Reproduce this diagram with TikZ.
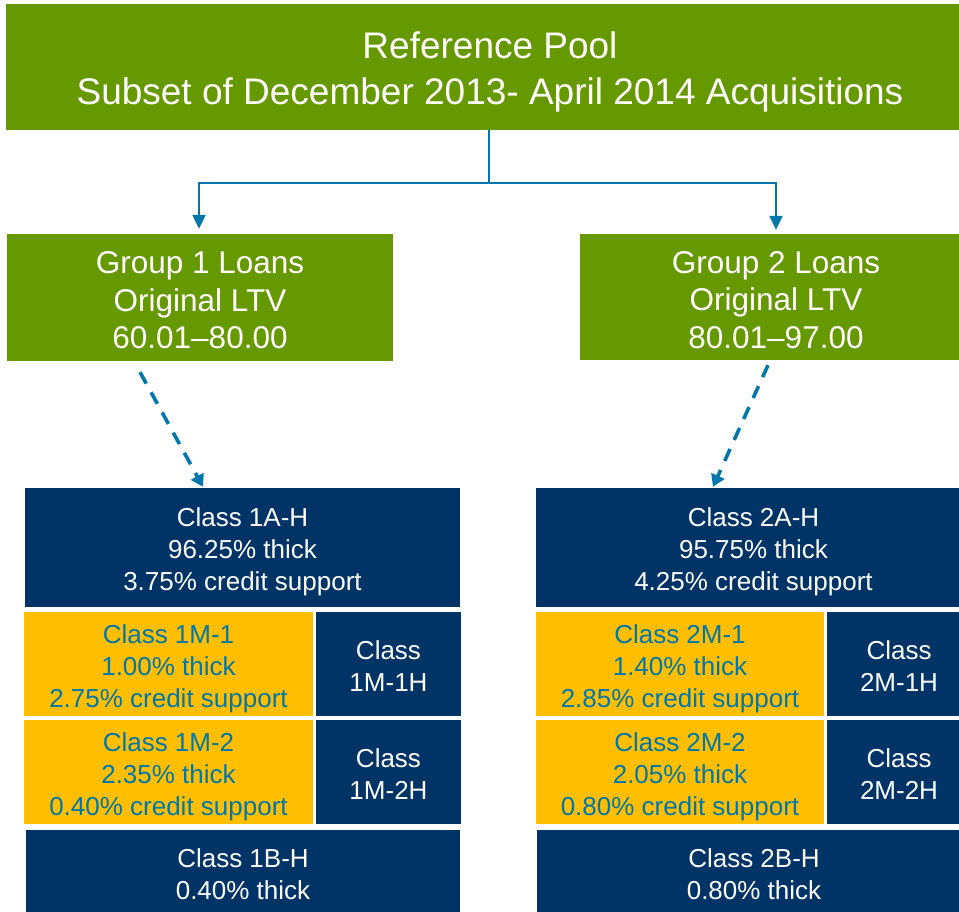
\documentclass[tikz,border=0pt]{standalone}
\usepackage{fontspec}
\setmainfont{Liberation Sans}
\usetikzlibrary{arrows.meta}
\definecolor{poolgreen}{HTML}{669900}
\definecolor{navy}{HTML}{003366}
\definecolor{gold}{HTML}{FFBF00}
\definecolor{linkblue}{HTML}{0077AA}
\begin{document}
\begin{tikzpicture}[x=1pt,y=-1pt,
  box/.style={rectangle, inner sep=0pt},
  greenbox/.style={box, fill=poolgreen},
  navybox/.style={box, fill=navy},
  goldbox/.style={box, fill=gold},
  txt/.style={inner sep=0pt, align=center, text=white},
  toptxt/.style={txt, font=\fontsize{37}{46}\selectfont},
  grptxt/.style={txt, font=\fontsize{31.5}{37.5}\selectfont},
  clstxt/.style={txt, font=\fontsize{26}{32}\selectfont},
  goldtxt/.style={clstxt, text=linkblue},
  conn/.style={draw=linkblue, line width=2.2pt},
  tip/.style={-{Triangle[width=13pt,length=14pt]}, linkblue},
  dashconn/.style={draw=linkblue, line width=3.6pt, dash pattern=on 13pt off 10pt, -{Triangle[width=14pt,length=12pt]}}
]
\useasboundingbox (0,0) rectangle (959,912);
\clip (0,0) rectangle (959,912);

% boxes (right-hand ones run past the picture's edge)
\node[greenbox, minimum width=968pt, minimum height=126pt] (top) at (490,67) {};
\node[greenbox, minimum width=386pt, minimum height=127pt] (g1) at (200,297.5) {};
\node[greenbox, minimum width=392pt, minimum height=126pt] (g2) at (776,297) {};

\node[navybox, minimum width=435pt, minimum height=119pt] (c1a) at (242.5,547.5) {};
\node[goldbox, minimum width=289pt, minimum height=104pt] (c1m1) at (168.5,664) {};
\node[navybox, minimum width=145pt, minimum height=104pt] (c1m1h) at (388.5,664) {};
\node[goldbox, minimum width=289pt, minimum height=104pt] (c1m2) at (168.5,772) {};
\node[navybox, minimum width=145pt, minimum height=104pt] (c1m2h) at (388.5,772) {};
\node[navybox, minimum width=434pt, minimum height=82pt] (c1b) at (243,871) {};

\node[navybox, minimum width=435pt, minimum height=119pt] (c2a) at (753.5,547.5) {};
\node[goldbox, minimum width=288pt, minimum height=104pt] (c2m1) at (680,664) {};
\node[navybox, minimum width=144pt, minimum height=104pt] (c2m1h) at (899,664) {};
\node[goldbox, minimum width=288pt, minimum height=104pt] (c2m2) at (680,772) {};
\node[navybox, minimum width=144pt, minimum height=104pt] (c2m2h) at (899,772) {};
\node[navybox, minimum width=434pt, minimum height=82pt] (c2b) at (754,871) {};

% texts
\node[toptxt] (ttop) at ([yshift=-5pt]top.center) {Reference Pool\\Subset of December 2013- April 2014 Acquisitions};
\node[grptxt] (tg1) at ([yshift=-3pt]g1.center) {Group 1 Loans\\Original LTV\\60.01--80.00};
\node[grptxt] (tg2) at ([yshift=-3pt]g2.center) {Group 2 Loans\\Original LTV\\80.01--97.00};

\node[clstxt] (tc1a) at ([yshift=-4.5pt]c1a.center) {Class 1A-H\\96.25\% thick\\3.75\% credit support};
\node[goldtxt] (tc1m1) at ([yshift=-5pt]c1m1.center) {Class 1M-1\\1.00\% thick\\2.75\% credit support};
\node[clstxt] (tc1m1h) at ([yshift=-2pt]c1m1h.center) {Class\\1M-1H};
\node[goldtxt] (tc1m2) at ([yshift=-5pt]c1m2.center) {Class 1M-2\\2.35\% thick\\0.40\% credit support};
\node[clstxt] (tc1m2h) at ([yshift=-2pt]c1m2h.center) {Class\\1M-2H};
\node[clstxt] (tc1b) at ([yshift=-3pt]c1b.center) {Class 1B-H\\0.40\% thick};

\node[clstxt] (tc2a) at ([yshift=-4.5pt]c2a.center) {Class 2A-H\\95.75\% thick\\4.25\% credit support};
\node[goldtxt] (tc2m1) at ([yshift=-5pt]c2m1.center) {Class 2M-1\\1.40\% thick\\2.85\% credit support};
\node[clstxt] (tc2m1h) at ([yshift=-2pt]c2m1h.center) {Class\\2M-1H};
\node[goldtxt] (tc2m2) at ([yshift=-5pt]c2m2.center) {Class 2M-2\\2.05\% thick\\0.80\% credit support};
\node[clstxt] (tc2m2h) at ([yshift=-2pt]c2m2h.center) {Class\\2M-2H};
\node[clstxt] (tc2b) at ([yshift=-3pt]c2b.center) {Class 2B-H\\0.80\% thick};

% connectors
\coordinate (split) at (489,183);
\draw[conn] (top.south -| split) -- (split);
\draw[conn, tip, shorten >=5pt] (split) -| ([xshift=-1pt]g1.north);
\draw[conn, tip, shorten >=4pt] (split) -| (g2.north);

\draw[dashconn] ([xshift=-60pt,yshift=-11pt]g1.south) -- ([xshift=-39.5pt,yshift=1pt]c1a.north);
\draw[dashconn] ([xshift=-8pt,yshift=-5pt]g2.south) -- ([xshift=-40.5pt,yshift=1pt]c2a.north);
\end{tikzpicture}
\end{document}
